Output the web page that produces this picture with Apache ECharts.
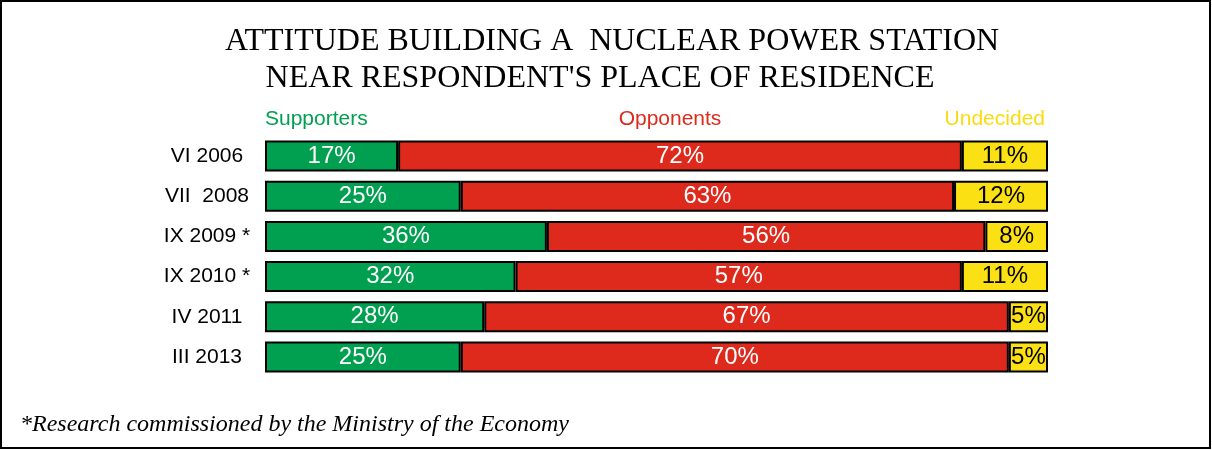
<!DOCTYPE html>
<html>
<head>
<meta charset="utf-8">
<script src="https://cdn.jsdelivr.net/npm/echarts@6/dist/echarts.min.js"></script>
<style>
  html, body { margin: 0; padding: 0; background: #fff; }
  #main { width: 1212px; height: 450px; }
</style>
</head>
<body>
<div id="main"></div>
<script>
// 数据
var categories = ['VI 2006', 'VII  2008', 'IX 2009 *', 'IX 2010 *', 'IV 2011', 'III 2013'];
var supporters = [17, 25, 36, 32, 28, 25];
var opponents = [72, 63, 56, 57, 67, 70];
var undecided = [11, 12, 8, 11, 5, 5];
var seriesNames = ['Supporters', 'Opponents', 'Undecided'];

var colGreen = '#00A050';
var colRed = '#DE2A1C';
var colYellow = '#FBE013';

var chartDom = document.getElementById('main');
var myChart = echarts.init(chartDom);
var option;

// 每个系列的公共样式
function makeSeries(name, data, color, labelColor) {
    return {
        name: name,
        type: 'bar',
        stack: 'total',
        barWidth: '77%',
        data: data,
        itemStyle: {
            color: color,
            borderColor: '#000',
            borderWidth: 2
        },
        label: {
            show: true,
            position: 'inside',
            formatter: '{c}%',
            color: labelColor,
            fontFamily: 'Liberation Sans, Arial, sans-serif',
            fontSize: 24
        },
        emphasis: { disabled: true }
    };
}

option = {
    animation: false,
    backgroundColor: '#fff',
    title: [
        {
            text: 'ATTITUDE BUILDING A  NUCLEAR POWER STATION',
            left: 607,
            top: 21,
            textAlign: 'center',
            textStyle: {
                fontFamily: 'Liberation Serif, Times New Roman, serif',
                fontSize: 32,
                fontWeight: 'normal',
                color: '#000'
            }
        },
        {
            text: "NEAR RESPONDENT'S PLACE OF RESIDENCE",
            left: 595,
            top: 58,
            textAlign: 'center',
            textStyle: {
                fontFamily: 'Liberation Serif, Times New Roman, serif',
                fontSize: 32,
                fontWeight: 'normal',
                color: '#000'
            }
        }
    ],
    grid: {
        left: 265,
        right: 164,
        top: 136,
        bottom: 73
    },
    xAxis: {
        type: 'value',
        min: 0,
        max: 100,
        show: false
    },
    yAxis: {
        type: 'category',
        inverse: true,
        data: categories,
        axisLine: { show: false },
        axisTick: { show: false },
        splitLine: { show: false },
        axisLabel: {
            align: 'center',
            margin: 58,
            color: '#000',
            fontFamily: 'Liberation Sans, Arial, sans-serif',
            fontSize: 21
        }
    },
    graphic: [
        {
            type: 'rect',
            shape: { x: 1, y: 1, width: 1209, height: 447 },
            style: { fill: 'none', stroke: '#000', lineWidth: 2 }
        },
        {
            type: 'text',
            x: 265, y: 130,
            style: {
                text: seriesNames[0], fill: colGreen,
                font: '21px "Liberation Sans", Arial, sans-serif',
                textAlign: 'left', textVerticalAlign: 'bottom'
            }
        },
        {
            type: 'text',
            x: 670, y: 130,
            style: {
                text: seriesNames[1], fill: colRed,
                font: '21px "Liberation Sans", Arial, sans-serif',
                textAlign: 'center', textVerticalAlign: 'bottom'
            }
        },
        {
            type: 'text',
            x: 1045, y: 130,
            style: {
                text: seriesNames[2], fill: '#F8DC10',
                font: '21px "Liberation Sans", Arial, sans-serif',
                textAlign: 'right', textVerticalAlign: 'bottom'
            }
        },
        {
            type: 'text',
            x: 20, y: 437,
            style: {
                text: '*Research commissioned by the Ministry of the Economy',
                fill: '#000',
                font: 'italic 24px "Liberation Serif", "Times New Roman", serif',
                textAlign: 'left', textVerticalAlign: 'bottom'
            }
        }
    ],
    series: [
        makeSeries(seriesNames[0], supporters, colGreen, '#fff'),
        makeSeries(seriesNames[1], opponents, colRed, '#fff'),
        makeSeries(seriesNames[2], undecided, colYellow, '#000')
    ]
};

option && myChart.setOption(option);
</script>
</body>
</html>
